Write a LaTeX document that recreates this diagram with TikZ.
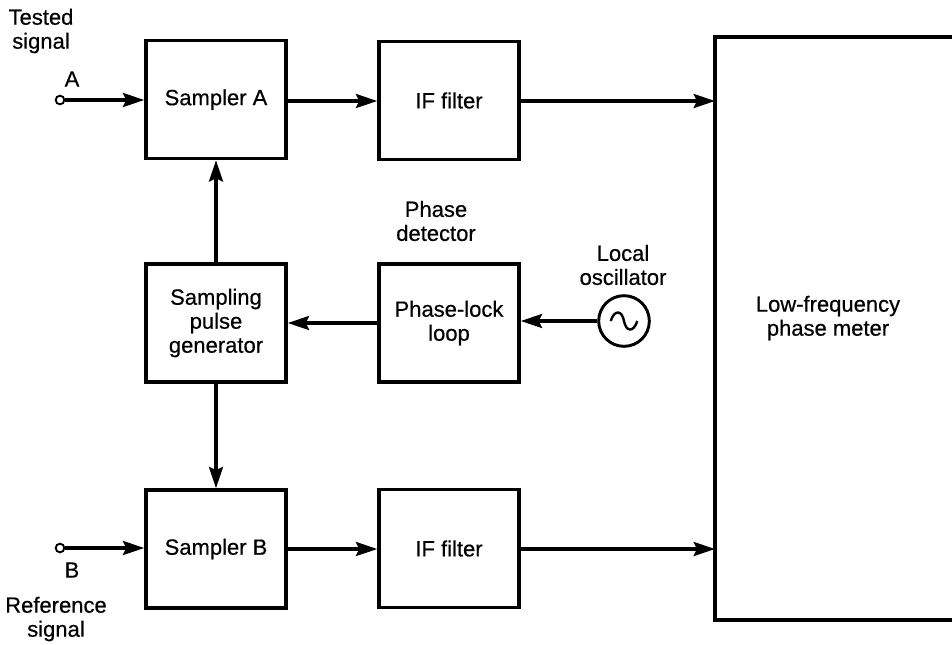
\documentclass[tikz,border=0pt]{standalone}
\usepackage{fontspec}
\setmainfont[FakeBold=0.5,AutoFakeBold=0.5]{Liberation Sans}
\usetikzlibrary{arrows.meta}
\begin{document}
\begin{tikzpicture}[x=0.75pt,y=-0.75pt,
  txt/.style={font=\fontsize{16.5}{18}\selectfont\bfseries},
  blk/.style={draw,line width=2.6pt,minimum width=105pt,minimum height=88.5pt,inner sep=0pt,align=center,txt},
  lbl/.style={align=center,txt,inner sep=0pt},
  conn/.style={line width=2.4pt,-{Stealth[length=16pt,width=10.5pt,inset=2.5pt]}},
  port/.style={draw,circle,line width=1.4pt,minimum size=6.5pt,inner sep=0pt}]
\useasboundingbox (0,0) rectangle (952,644);
\clip (0,0) rectangle (952,644);
% processing blocks
\node[blk] (sa) at (216,99.5) {Sampler A};
\node[blk] (ifa) at (449,100.5) {IF filter};
\node[blk] (spg) at (216,323) {Sampling\\pulse\\generator};
\node[blk] (pll) at (449,323) {Phase-lock\\loop};
\node[blk] (sb) at (216,549) {Sampler B};
\node[blk] (ifb) at (449,548.5) {IF filter};
% phase meter (runs past the right edge)
\draw[line width=2.6pt] (715,37) rectangle (990,620);
\node[lbl] (pmt) at (828,318) {Low-frequency\\phase meter};
% local oscillator
\node[draw,circle,line width=2.2pt,minimum size=38pt,inner sep=0pt] (lo) at (624,321) {};
\draw[line width=1.8pt] ([xshift=-10pt]lo.center) .. controls ([xshift=-7pt,yshift=9pt]lo.center) and ([xshift=-1.5pt,yshift=8pt]lo.center) .. (lo.center)
  .. controls ([xshift=1.5pt,yshift=-8pt]lo.center) and ([xshift=7pt,yshift=-9pt]lo.center) .. ([xshift=10pt]lo.center);
% signal inputs
\node[port] (ina) at (60,100) {};
\node[port] (inb) at (60,548) {};
\node[lbl] (la) at (72,79) {A};
\node[lbl] (lb) at (72,570) {B};
\node[lbl] (ts) at (41,31) {Tested\\signal};
\node[lbl] (rs) at (56,619) {Reference\\signal};
\node[lbl] (pd) at (436,221) {Phase\\detector};
\node[lbl] (lot) at (623,265) {Local\\oscillator};
% signal paths
\coordinate (pa) at (715,101);
\coordinate (pb) at (715,549);
\draw[conn] (ina.east) -- (sa.west|-ina);
\draw[conn] (inb.east) -- (sb.west|-inb);
\draw[conn] (sa.east|-pa) -- (ifa.west|-pa);
\draw[conn] (sb.east|-pb) -- (ifb.west|-pb);
\draw[conn] (ifa.east|-pa) -- (pa);
\draw[conn] (ifb.east|-pb) -- (pb);
\draw[conn] (spg.north) -- (sa.south);
\draw[conn] (spg.south) -- (sb.north);
\draw[conn] (pll.west) -- (spg.east);
\draw[conn] (lo.west) -- (pll.east|-lo);
\end{tikzpicture}
\end{document}
